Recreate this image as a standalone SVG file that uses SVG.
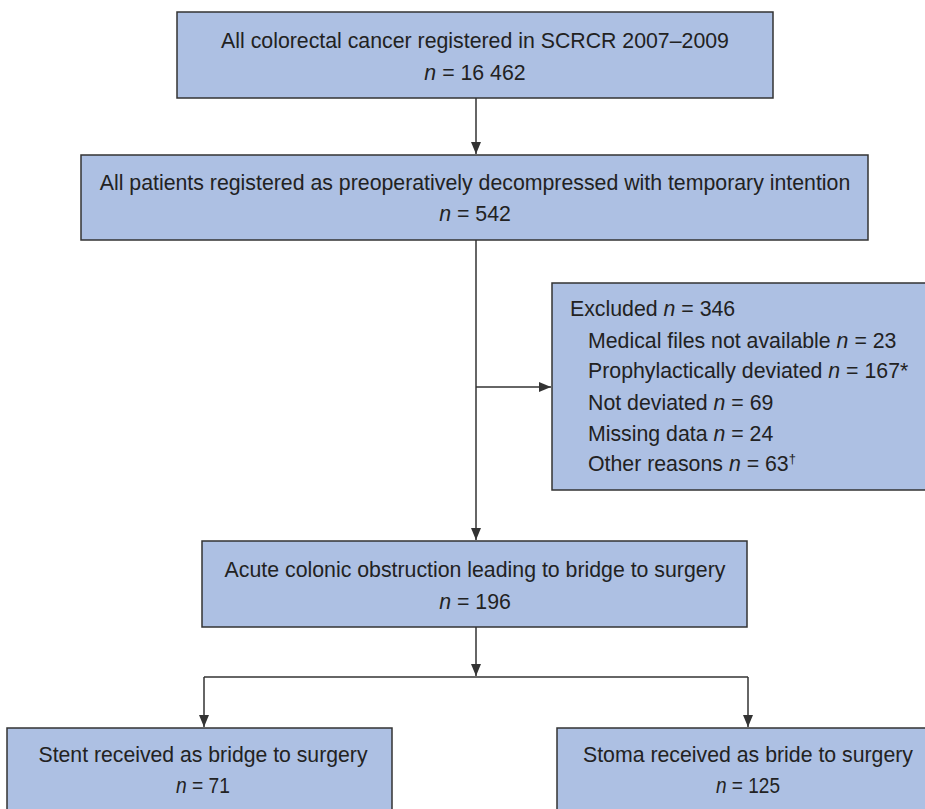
<svg xmlns="http://www.w3.org/2000/svg" width="925" height="809" viewBox="0 0 925 809">
<style>
.box{fill:#adc0e3;stroke:#333;stroke-width:1.5}
text{font-family:"Liberation Sans",Arial,sans-serif;font-size:21.3px;fill:#222}
.c{text-anchor:middle}
.con{stroke:#333;stroke-width:1.5;fill:none}
</style>
<defs>
<marker id="ah" markerWidth="12" markerHeight="10" refX="12" refY="5" orient="auto" markerUnits="userSpaceOnUse">
<path d="M0,0 L12,5 L0,10 Z" fill="#333"/>
</marker>
</defs>
<rect width="925" height="809" fill="#fff"/>
<g id="connectors">
<line class="con" x1="476" y1="98" x2="476" y2="154" marker-end="url(#ah)"/>
<line class="con" x1="476" y1="240" x2="476" y2="540" marker-end="url(#ah)"/>
<line class="con" x1="476" y1="387" x2="551" y2="387" marker-end="url(#ah)"/>
<line class="con" x1="476" y1="627" x2="476" y2="676" marker-end="url(#ah)"/>
<line class="con" x1="204" y1="677" x2="748" y2="677"/>
<line class="con" x1="204" y1="677" x2="204" y2="727" marker-end="url(#ah)"/>
<line class="con" x1="748" y1="677" x2="748" y2="727" marker-end="url(#ah)"/>
</g>
<g id="n1">
<rect class="box" x="177" y="12" width="596" height="86"/>
<text class="c" x="475" y="48">All colorectal cancer registered in SCRCR 2007–2009</text>
<text class="c" x="475" y="80"><tspan font-style="italic">n</tspan> = 16 462</text>
</g>
<g id="n2">
<rect class="box" x="81" y="155" width="787" height="85"/>
<text class="c" x="475" y="190">All patients registered as preoperatively decompressed with temporary intention</text>
<text class="c" x="475" y="221"><tspan font-style="italic">n</tspan> = 542</text>
</g>
<g id="n3">
<rect class="box" x="552" y="283" width="380" height="207"/>
<text x="570" y="316">Excluded <tspan font-style="italic">n</tspan> = 346</text>
<text x="588" y="348">Medical files not available <tspan font-style="italic">n</tspan> = 23</text>
<text x="588" y="378">Prophylactically deviated <tspan font-style="italic">n</tspan> = 167*</text>
<text x="588" y="410">Not deviated <tspan font-style="italic">n</tspan> = 69</text>
<text x="588" y="441">Missing data <tspan font-style="italic">n</tspan> = 24</text>
<text x="588" y="471">Other reasons <tspan font-style="italic">n</tspan> = 63<tspan font-size="13" dy="-8">†</tspan></text>
</g>
<g id="n4">
<rect class="box" x="202" y="541" width="545" height="86"/>
<text class="c" x="475" y="577">Acute colonic obstruction leading to bridge to surgery</text>
<text class="c" x="475" y="609"><tspan font-style="italic">n</tspan> = 196</text>
</g>
<g id="n5">
<rect class="box" x="7" y="728" width="385" height="90"/>
<text class="c" x="203" y="762" textLength="329" lengthAdjust="spacingAndGlyphs">Stent received as bridge to surgery</text>
<text class="c" x="203" y="793" textLength="54" lengthAdjust="spacingAndGlyphs"><tspan font-style="italic">n</tspan> = 71</text>
</g>
<g id="n6">
<rect class="box" x="557" y="728" width="375" height="90"/>
<text class="c" x="748" y="762" textLength="330" lengthAdjust="spacingAndGlyphs">Stoma received as bride to surgery</text>
<text class="c" x="748" y="793" textLength="64" lengthAdjust="spacingAndGlyphs"><tspan font-style="italic">n</tspan> = 125</text>
</g>
</svg>
